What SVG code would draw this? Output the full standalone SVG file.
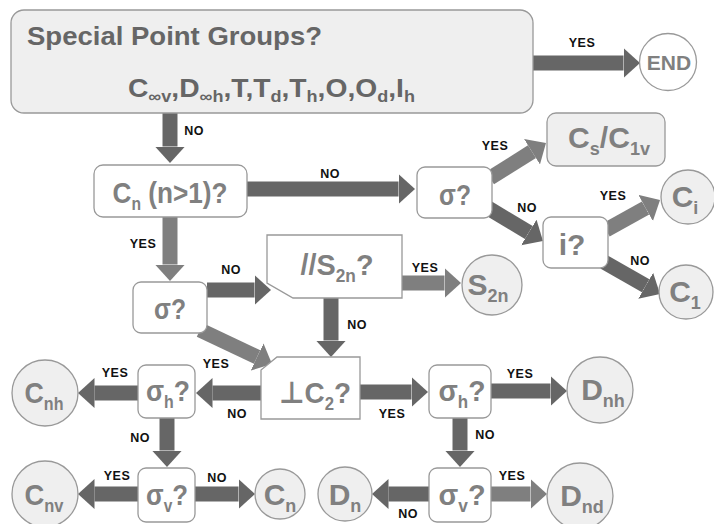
<svg xmlns="http://www.w3.org/2000/svg" width="714" height="524" viewBox="0 0 714 524">
<defs>
<style>
.box{fill:#fff;stroke:#999;stroke-width:1.3}
.gbox{fill:#efefef;stroke:#999;stroke-width:1.3}
.circ{fill:#efefef;stroke:#999;stroke-width:1.3}
.t{font-family:"Liberation Sans",Arial,"DejaVu Sans",sans-serif;font-weight:bold;fill:#808080;font-size:30px;text-anchor:middle}
.title{font-family:"Liberation Sans",Arial,sans-serif;font-weight:bold;fill:#666;font-size:25px}
.sub{font-size:18px}
.tsub{font-size:16px}
.lbl{font-family:"Liberation Sans",Arial,sans-serif;font-weight:bold;fill:#111;font-size:12.5px;text-anchor:middle;letter-spacing:0.5px}
.a{stroke:#666;stroke-width:15;fill:none;marker-end:url(#hd)}
.b{stroke:#7f7f7f;stroke-width:15;fill:none;marker-end:url(#hl)}
</style>
<marker id="hd" viewBox="0 0 11 20" markerWidth="1.1" markerHeight="2" refX="0" refY="10" orient="auto"><path d="M0,0 L11,10 L0,20z" fill="#666"/></marker>
<marker id="hl" viewBox="0 0 11 20" markerWidth="1.1" markerHeight="2" refX="0" refY="10" orient="auto"><path d="M0,0 L11,10 L0,20z" fill="#7f7f7f"/></marker>
</defs>

<g id="connectors">
<line class="a" x1="533" y1="63" x2="623.5" y2="63"/>
<line class="a" x1="170" y1="113" x2="170" y2="146.5"/>
<line class="a" x1="247" y1="189" x2="398.5" y2="189"/>
<line class="b" x1="490" y1="178" x2="532" y2="151.7"/>
<line class="a" x1="488" y1="208" x2="528.8" y2="232.5"/>
<line class="b" x1="606" y1="230" x2="645.6" y2="208"/>
<line class="a" x1="604" y1="262" x2="645.7" y2="285.8"/>
<line class="b" x1="170" y1="217" x2="170" y2="264.5"/>
<line class="a" x1="207" y1="290" x2="254.5" y2="290"/>
<line class="b" x1="402" y1="283" x2="444.5" y2="283"/>
<line class="a" x1="331" y1="298" x2="331" y2="340.5"/>
<line class="b" x1="200" y1="330" x2="257.1" y2="357"/>
<line class="a" x1="261" y1="393" x2="212.5" y2="393"/>
<line class="a" x1="138" y1="393" x2="94.5" y2="393"/>
<line class="a" x1="167" y1="418" x2="167" y2="450.5"/>
<line class="a" x1="138" y1="494" x2="94.5" y2="494"/>
<line class="a" x1="195" y1="494" x2="238.5" y2="494"/>
<line class="a" x1="360" y1="392" x2="411.5" y2="392"/>
<line class="a" x1="491" y1="391" x2="550.5" y2="391"/>
<line class="a" x1="460" y1="418" x2="460" y2="450.5"/>
<line class="b" x1="491" y1="494" x2="530.5" y2="494"/>
<line class="a" x1="429" y1="494" x2="388.5" y2="494"/>
</g>

<g id="labels">
<text class="lbl" x="582" y="47">YES</text>
<text class="lbl" x="194" y="135">NO</text>
<text class="lbl" x="330" y="178">NO</text>
<text class="lbl" x="495" y="150">YES</text>
<text class="lbl" x="527" y="212">NO</text>
<text class="lbl" x="613" y="200">YES</text>
<text class="lbl" x="640" y="265">NO</text>
<text class="lbl" x="143" y="248">YES</text>
<text class="lbl" x="231" y="274">NO</text>
<text class="lbl" x="425" y="272">YES</text>
<text class="lbl" x="357" y="329">NO</text>
<text class="lbl" x="216" y="368">YES</text>
<text class="lbl" x="237" y="418">NO</text>
<text class="lbl" x="115" y="377">YES</text>
<text class="lbl" x="140" y="442">NO</text>
<text class="lbl" x="117" y="480">YES</text>
<text class="lbl" x="217" y="482">NO</text>
<text class="lbl" x="392" y="418">YES</text>
<text class="lbl" x="520" y="378">YES</text>
<text class="lbl" x="485" y="439">NO</text>
<text class="lbl" x="512" y="480">YES</text>
<text class="lbl" x="408" y="518">NO</text>
</g>

<g id="special">
<rect class="gbox" x="11" y="10" width="522" height="103" rx="13"/>
<text class="title" x="27" y="45" textLength="295" lengthAdjust="spacingAndGlyphs">Special Point Groups?</text>
<text class="title" x="128" y="97" textLength="287" lengthAdjust="spacingAndGlyphs">C<tspan class="tsub" dy="5">∞v</tspan><tspan dy="-5">,D</tspan><tspan class="tsub" dy="5">∞h</tspan><tspan dy="-5">,T,T</tspan><tspan class="tsub" dy="5">d</tspan><tspan dy="-5">,T</tspan><tspan class="tsub" dy="5">h</tspan><tspan dy="-5">,O,O</tspan><tspan class="tsub" dy="5">d</tspan><tspan dy="-5">,I</tspan><tspan class="tsub" dy="5">h</tspan></text>
</g>
<g id="end">
<circle cx="668" cy="62" r="28.5" fill="#fff" stroke="#999" stroke-width="1.3"/>
<text class="t" x="669" y="70" style="font-size:21px">END</text>
</g>
<g id="cn">
<rect class="box" x="94" y="165" width="153" height="52" rx="9"/>
<text class="t" x="170" y="203" textLength="115" lengthAdjust="spacingAndGlyphs">C<tspan class="sub" dy="7">n</tspan><tspan dy="-7"> (n&gt;1)?</tspan></text>
</g>
<g id="sigma1">
<rect class="box" x="417" y="167" width="75" height="51" rx="8"/>
<text class="t" x="455" y="205" textLength="32" lengthAdjust="spacingAndGlyphs">σ?</text>
</g>
<g id="cs">
<rect class="gbox" x="547" y="113" width="118" height="53" rx="9"/>
<text class="t" x="609" y="148" textLength="82" lengthAdjust="spacingAndGlyphs">C<tspan class="sub" dy="7">s</tspan><tspan dy="-7">/C</tspan><tspan class="sub" dy="7">1v</tspan></text>
</g>
<g id="i">
<rect class="box" x="543" y="217" width="65" height="51" rx="8"/>
<text class="t" x="572" y="255">i?</text>
</g>
<g id="ci">
<circle class="circ" cx="688" cy="197" r="27"/>
<text class="t" x="685" y="207">C<tspan class="sub" dy="7">i</tspan></text>
</g>
<g id="c1">
<circle class="circ" cx="686" cy="292" r="27"/>
<text class="t" x="685" y="302">C<tspan class="sub" dy="7">1</tspan></text>
</g>
<g id="sigma2">
<rect class="box" x="133" y="282" width="74" height="51" rx="8"/>
<text class="t" x="170" y="319" textLength="32" lengthAdjust="spacingAndGlyphs">σ?</text>
</g>
<g id="s2nq">
<polygon class="box" points="267,235 402,235 402,298 293,298 267,283"/>
<text class="t" x="337" y="275" textLength="73" lengthAdjust="spacingAndGlyphs">//S<tspan class="sub" dy="7">2n</tspan><tspan dy="-7">?</tspan></text>
</g>
<g id="s2n">
<circle class="circ" cx="492" cy="285" r="30"/>
<text class="t" x="488" y="295">S<tspan class="sub" dy="7">2n</tspan></text>
</g>
<g id="c2">
<polygon class="box" points="277,357 360,357 360,419 261,419 261,370"/>
<text class="t" x="315" y="403" textLength="72" lengthAdjust="spacingAndGlyphs">⊥C<tspan class="sub" dy="7">2</tspan><tspan dy="-7">?</tspan></text>
</g>
<g id="sigmah1">
<rect class="box" x="138" y="365" width="57" height="53" rx="8"/>
<text class="t" x="168" y="401" textLength="44" lengthAdjust="spacingAndGlyphs">σ<tspan class="sub" dy="7">h</tspan><tspan dy="-7">?</tspan></text>
</g>
<g id="cnh">
<circle class="circ" cx="45" cy="393" r="33"/>
<text class="t" x="44" y="403" textLength="39" lengthAdjust="spacingAndGlyphs">C<tspan class="sub" dy="7">nh</tspan></text>
</g>
<g id="sigmav1">
<rect class="box" x="138" y="468" width="57" height="54" rx="8"/>
<text class="t" x="167" y="505" textLength="42" lengthAdjust="spacingAndGlyphs">σ<tspan class="sub" dy="7">v</tspan><tspan dy="-7">?</tspan></text>
</g>
<g id="cnv">
<circle class="circ" cx="45" cy="494" r="33"/>
<text class="t" x="44" y="505" textLength="39" lengthAdjust="spacingAndGlyphs">C<tspan class="sub" dy="7">nv</tspan></text>
</g>
<g id="cn2">
<circle class="circ" cx="280" cy="494" r="25"/>
<text class="t" x="280" y="505">C<tspan class="sub" dy="7">n</tspan></text>
</g>
<g id="dn">
<circle class="circ" cx="345" cy="494" r="27"/>
<text class="t" x="345" y="505">D<tspan class="sub" dy="7">n</tspan></text>
</g>
<g id="sigmah2">
<rect class="box" x="429" y="365" width="62" height="53" rx="8"/>
<text class="t" x="462" y="401" textLength="47" lengthAdjust="spacingAndGlyphs">σ<tspan class="sub" dy="7">h</tspan><tspan dy="-7">?</tspan></text>
</g>
<g id="dnh">
<circle class="circ" cx="600" cy="390" r="33"/>
<text class="t" x="603" y="400">D<tspan class="sub" dy="7">nh</tspan></text>
</g>
<g id="sigmav2">
<rect class="box" x="429" y="468" width="62" height="54" rx="8"/>
<text class="t" x="462" y="505" textLength="47" lengthAdjust="spacingAndGlyphs">σ<tspan class="sub" dy="7">v</tspan><tspan dy="-7">?</tspan></text>
</g>
<g id="dnd">
<circle class="circ" cx="580" cy="496" r="33"/>
<text class="t" x="582" y="506">D<tspan class="sub" dy="7">nd</tspan></text>
</g>
</svg>
